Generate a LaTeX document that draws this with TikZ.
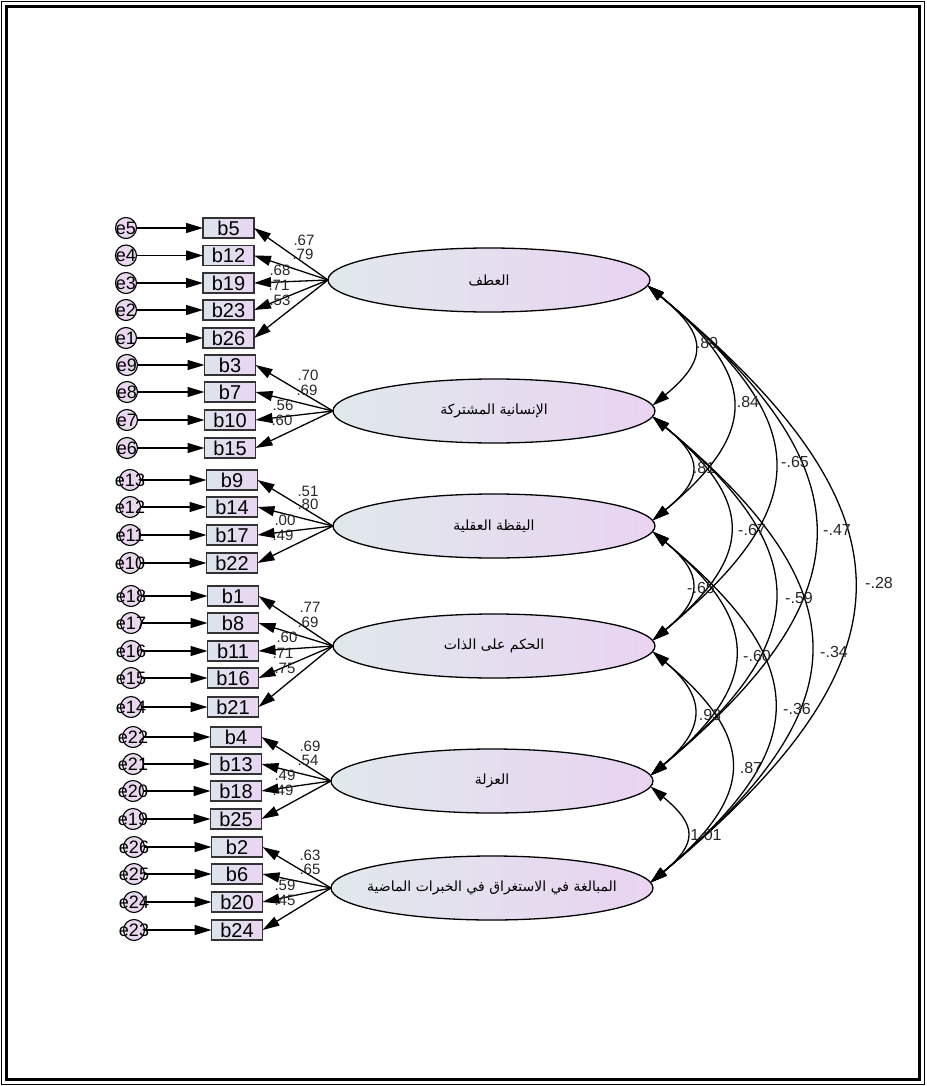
\documentclass[tikz,border=0pt]{standalone}
\usepackage{fontspec}
\setmainfont{Liberation Sans}
\newfontfamily\arabicfont[Script=Arabic]{DejaVu Sans}
\TeXXeTstate=1
\usetikzlibrary{shapes.geometric,arrows.meta}
\definecolor{boxL}{HTML}{DCE4EC}
\definecolor{boxR}{HTML}{EAD5F2}
\definecolor{ellL}{HTML}{E0E9EC}
\definecolor{ellR}{HTML}{E9D3F1}
\definecolor{errF}{HTML}{E9D7EE}
\begin{document}
\begin{tikzpicture}[x=1pt,y=-1pt,
  tip/.style={line width=1.3pt,-{Triangle[length=17pt,width=10pt]}},
  dtip/.style={line width=1.3pt,{Triangle[length=17pt,width=10pt]}-{Triangle[length=17pt,width=10pt]}},
  obs/.style={rectangle,draw=black!80,line width=1.5pt,minimum width=51pt,minimum height=20pt,inner sep=0pt,outer sep=0pt,left color=boxL,right color=boxR,font=\fontsize{20}{20}\selectfont},
  err/.style={circle,draw,line width=1.1pt,fill=errF,minimum size=21pt,inner sep=0pt,outer sep=0pt,label={[font=\fontsize{18}{18}\selectfont,inner sep=0pt]center:#1}},
  lat/.style={ellipse,draw,line width=1.3pt,minimum width=322pt,minimum height=64pt,inner sep=0pt,outer sep=0pt,left color=ellL,right color=ellR,font=\arabicfont\fontsize{14}{14}\selectfont},
  ld/.style={font=\fontsize{15}{15}\selectfont,inner sep=0pt,text=black!85},
  cv/.style={font=\fontsize{16}{16}\selectfont,inner sep=0pt,text=black!85}]
\useasboundingbox (0,0) rectangle (926,1086);
\draw[line width=1.2pt] (1.5,1.5) rectangle (924.5,1084.5);
\draw[line width=3pt] (6.5,6.5) rectangle (919.5,1079.5);

% latent factors
\node[lat] (f1) at (489,280) {\beginR العطف\endR};
\node[lat] (f2) at (494,411) {\beginR الإنسانية المشتركة\endR};
\node[lat] (f3) at (494,526) {\beginR اليقظة العقلية\endR};
\node[lat] (f4) at (494,646) {\beginR الحكم على الذات\endR};
\node[lat] (f5) at (492,781) {\beginR العزلة\endR};
\node[lat] (f6) at (492,888) {\makebox[0pt][c]{\beginR المبالغة في الاستغراق في الخبرات الماضية\endR}};

% group 1
\foreach \b/\e/\y in {b5/e5/228,b12/e4/255.5,b19/e3/283,b23/e2/310,b26/e1/338}{
  \node[obs] (\b) at (228.5,\y) {\b};
  \node[err=\e] (\e) at (126,\y) {};
  \draw[tip] (\e) -- (\b);
  \draw[tip] (f1.west) -- (\b.east);
}
% group 2
\foreach \b/\e/\y in {b3/e9/365,b7/e8/392,b10/e7/420,b15/e6/448}{
  \node[obs] (\b) at (230,\y) {\b};
  \node[err=\e] (\e) at (127,\y) {};
  \draw[tip] (\e) -- (\b);
  \draw[tip] (f2.west) -- (\b.east);
}
% group 3
\foreach \b/\e/\y in {b9/e13/480,b14/e12/507,b17/e11/535,b22/e10/563}{
  \node[obs] (\b) at (232,\y) {\b};
  \node[err=\e] (\e) at (130,\y) {};
  \draw[tip] (\e) -- (\b);
  \draw[tip] (f3.west) -- (\b.east);
}
% group 4
\foreach \b/\e/\y in {b1/e18/596,b8/e17/623,b11/e16/651,b16/e15/678,b21/e14/707}{
  \node[obs] (\b) at (233,\y) {\b};
  \node[err=\e] (\e) at (131,\y) {};
  \draw[tip] (\e) -- (\b);
  \draw[tip] (f4.west) -- (\b.east);
}
% group 5
\foreach \b/\e/\y in {b4/e22/737,b13/e21/764,b18/e20/791,b25/e19/819}{
  \node[obs] (\b) at (236,\y) {\b};
  \node[err=\e] (\e) at (133,\y) {};
  \draw[tip] (\e) -- (\b);
  \draw[tip] (f5.west) -- (\b.east);
}
% group 6
\foreach \b/\e/\y in {b2/e26/847,b6/e25/874,b20/e24/902,b24/e23/930}{
  \node[obs] (\b) at (237,\y) {\b};
  \node[err=\e] (\e) at (134,\y) {};
  \draw[tip] (\e) -- (\b);
  \draw[tip] (f6.west) -- (\b.east);
}

% loading labels
\foreach \x/\y/\t in {304/240/.67,303/254/.79,280/270/.68,279/285/.71,280/300/.53,
  308/375/.70,307/390/.69,283/405/.56,282/420/.60,
  308/491/.51,308/504/.80,285/520/.00,283/535/.49,
  310/607/.77,308/622/.69,287/637/.60,283/653/.71,285/668/.75,
  310/746/.69,308/760/.54,285/775/.49,283/790/.49,
  310/855/.63,310/869/.65,285/885/.59,285/900/.45}{
  \node[ld] at (\x,\y) {\t};
}

% covariances
\draw[dtip] (f1.-2) .. controls +(58,48) and +(58,-48) .. (f2.2);
\draw[dtip] (f1.-2) .. controls +(109,90) and +(109,-90) .. (f3.2);
\draw[dtip] (f1.-2) .. controls +(165,137) and +(165,-137) .. (f4.2);
\draw[dtip] (f1.-2) .. controls +(220,183) and +(220,-183) .. (f5.2);
\draw[dtip] (f1.-2) .. controls +(272,226) and +(272,-226) .. (f6.2);
\draw[dtip] (f2.-2) .. controls +(51,42) and +(51,-42) .. (f3.2);
\draw[dtip] (f2.-2) .. controls +(102,85) and +(102,-85) .. (f4.2);
\draw[dtip] (f2.-2) .. controls +(163,135) and +(163,-135) .. (f5.2);
\draw[dtip] (f2.-2) .. controls +(211,175) and +(211,-175) .. (f6.2);
\draw[dtip] (f3.-2) .. controls +(51,42) and +(51,-42) .. (f4.2);
\draw[dtip] (f3.-2) .. controls +(110,91) and +(110,-91) .. (f5.2);
\draw[dtip] (f3.-2) .. controls +(162,134) and +(162,-134) .. (f6.2);
\draw[dtip] (f4.-2) .. controls +(55,46) and +(55,-46) .. (f5.2);
\draw[dtip] (f4.-2) .. controls +(105,87) and +(105,-87) .. (f6.2);
\draw[dtip] (f5.-2) .. controls +(47,39) and +(47,-39) .. (f6.2);

\foreach \x/\y/\t in {707/343/.80,748/402/.84,795/462/-.65,837/530/-.47,879/583/-.28,
  704/468/.81,752/530/-.67,799/598/-.59,834/652/-.34,
  701/588/-.65,757/656/-.60,797/709/-.36,
  710/715/.93,751/768/.87,706/835/1.01}{
  \node[cv] at (\x,\y) {\t};
}
\end{tikzpicture}
\end{document}
